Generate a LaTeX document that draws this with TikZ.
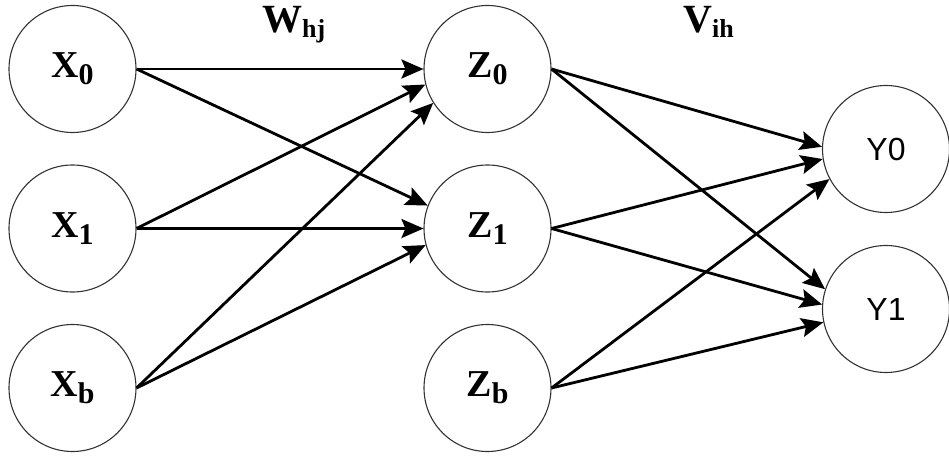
\documentclass[tikz,border=0pt]{standalone}
\usepackage{fontspec}
\setmainfont{Liberation Serif}
\newfontfamily\outsans{Liberation Sans}
\usetikzlibrary{arrows.meta}
% unit label: letter with a lowered index
\newcommand{\neuron}[2]{\bfseries\fontsize{38}{40}\selectfont #1\raisebox{-7pt}{\fontsize{30}{32}\selectfont #2}}
% weight matrix label
\newcommand{\wlabel}[2]{\bfseries\fontsize{40}{42}\selectfont #1\raisebox{-5pt}{\fontsize{26}{28}\selectfont #2}}

\begin{document}
\begin{tikzpicture}[x=1pt,y=-1pt,
  unit/.style={circle, draw=black!80, line width=1.1pt, minimum size=127pt, inner sep=0pt},
  link/.style={line width=2.8pt, -{Stealth[length=22pt,width=19pt,inset=4pt]}},
  wtext/.style={anchor=base west, inner sep=0pt}]
\useasboundingbox (0,0) rectangle (949,460);

% input layer
\node[unit] (x0) at (72.5,69)    {\neuron{X}{0}};
\node[unit] (x1) at (72.5,228.5) {\neuron{X}{1}};
\node[unit] (xb) at (72.5,388)   {\neuron{X}{b}};

% hidden layer
\node[unit] (z0) at (487.5,69)    {\neuron{Z}{0}};
\node[unit] (z1) at (487.5,228.5) {\neuron{Z}{1}};
\node[unit] (zb) at (487.5,388)   {\neuron{Z}{b}};

% output layer
\node[unit] (y0) at (886,149) {\outsans\fontsize{32}{34}\selectfont Y0};
\node[unit] (y1) at (886,309) {\outsans\fontsize{32}{34}\selectfont Y1};

% weight labels
\node[wtext] (whj) at (262,33) {\wlabel{W}{hj}};
\node[wtext] (vih) at (683,33) {\wlabel{V}{ih}};

% input -> hidden
\draw[link] (x0.east) -- (z0.180);
\draw[link] (x0.east) -- (z1.159);
\draw[link] (x1.east) -- (z0.194);
\draw[link] (x1.east) -- (z1.180);
\draw[link] (xb.east) -- (z0.212);
\draw[link] (xb.east) -- (z1.195);

% hidden -> output
\draw[link] (z0.east) -- (y0.178);
\draw[link] (z0.east) -- (y1.162);
\draw[link] (z1.east) -- (y0.189);
\draw[link] (z1.east) -- (y1.176);
\draw[link] (zb.east) -- (y0.208);
\draw[link] (zb.east) -- (y1.192);
\end{tikzpicture}
\end{document}
